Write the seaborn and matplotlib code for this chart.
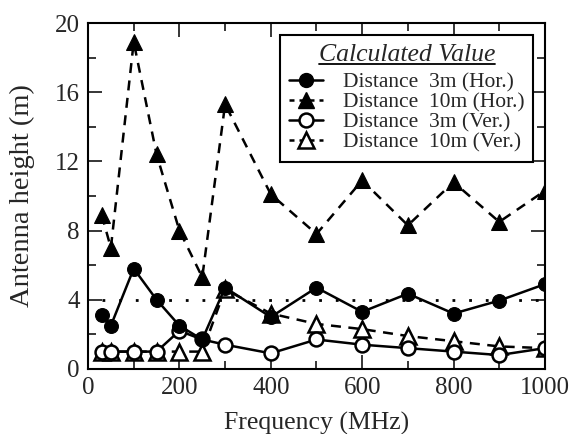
"""Antenna height vs frequency, calculated values."""
import matplotlib
matplotlib.use('Agg')
import matplotlib.pyplot as plt
from matplotlib.lines import Line2D
from matplotlib.ticker import MultipleLocator
import seaborn as sns

freq = [30, 50, 100, 150, 200, 250, 300, 400, 500, 600, 700, 800, 900, 1000]
hor_3m = [3.1, 2.5, 5.8, 4.0, 2.5, 1.7, 4.7, 3.0, 4.7, 3.3, 4.35, 3.2, 3.95, 4.9]
hor_10m = [8.9, 7.0, 18.9, 12.4, 8.0, 5.3, 15.3, 10.1, 7.8, 10.9, 8.3, 10.8, 8.5, 10.3]
ver_3m = [1.0, 1.0, 1.0, 1.0, 2.2, 1.7, 1.4, 0.9, 1.7, 1.4, 1.2, 1.0, 0.8, 1.2]
ver_10m = [1.0, 1.0, 1.0, 1.0, 1.0, 1.0, 4.6, 3.2, 2.6, 2.3, 1.9, 1.6, 1.3, 1.2]
ref_freq = [30, 1000]
ref_height = [4.0, 4.0]

labels = ['Distance  3m (Hor.)', 'Distance  10m (Hor.)',
          'Distance  3m (Ver.)', 'Distance  10m (Ver.)']

sns.set_style('ticks')
plt.rcParams['font.family'] = ['Liberation Serif', 'DejaVu Serif']

fig = plt.figure(figsize=(5.69, 4.34), dpi=100)
ax = fig.add_axes([0.1547, 0.150, 0.803, 0.797])

ms = 10
lw = 1.8
dash = (0, (4, 3))
sns.lineplot(x=ref_freq, y=ref_height, ax=ax, color='black', linestyle=(0, (1, 5)),
             linewidth=2, legend=False)
sns.lineplot(x=freq, y=ver_10m, ax=ax, color='black', linestyle=dash, linewidth=lw,
             marker='^', markersize=ms + 1, markerfacecolor='white', markeredgecolor='black',
             markeredgewidth=1.8, legend=False)
sns.lineplot(x=freq, y=ver_3m, ax=ax, color='black', linestyle='-', linewidth=lw,
             marker='o', markersize=ms, markerfacecolor='white', markeredgecolor='black',
             markeredgewidth=1.8, legend=False)
sns.lineplot(x=freq, y=hor_10m, ax=ax, color='black', linestyle=dash, linewidth=lw,
             marker='^', markersize=ms + 1, markerfacecolor='black', markeredgecolor='black',
             legend=False)
sns.lineplot(x=freq, y=hor_3m, ax=ax, color='black', linestyle='-', linewidth=lw,
             marker='o', markersize=ms, markerfacecolor='black', markeredgecolor='black',
             legend=False)

ax.set_xlim(0, 1000)
ax.set_ylim(0, 20)
ax.xaxis.set_major_locator(MultipleLocator(200))
ax.xaxis.set_minor_locator(MultipleLocator(100))
ax.yaxis.set_major_locator(MultipleLocator(4))
ax.yaxis.set_minor_locator(MultipleLocator(2))
ax.tick_params(which='both', direction='in', top=True, right=True, width=1.3,
               labelsize=18, pad=6)
ax.tick_params(which='major', length=10)
ax.tick_params(which='minor', length=6)
for s in ax.spines.values():
    s.set_linewidth(1.5)
    s.set_color('black')
ax.set_xlabel('Frequency (MHz)', fontsize=18.5)
ax.set_ylabel('Antenna height (m)', fontsize=20.5)
ax.xaxis.set_label_coords(0.5, -0.124)
ax.xaxis.label.set_va('top')
ax.yaxis.set_label_coords(-0.144, 0.5)
ax.yaxis.label.set_va('center')

handles = [
    Line2D([], [], color='black', ls='-', lw=lw, marker='o', ms=ms, mfc='black'),
    Line2D([], [], color='black', ls=(0, (2, 2)), lw=lw, marker='^', ms=ms + 1, mfc='black'),
    Line2D([], [], color='black', ls='-', lw=lw, marker='o', ms=ms, mfc='white', mew=1.8),
    Line2D([], [], color='black', ls=(0, (2, 2)), lw=lw, marker='^', ms=ms + 1, mfc='white', mew=1.8),
]
leg = ax.legend(handles, labels, loc='upper right', bbox_to_anchor=(0.974, 0.965),
                title='Calculated Value', fontsize=15.5, handlelength=1.6,
                handletextpad=0.9, labelspacing=0.0, borderpad=0.4, borderaxespad=0,
                frameon=True, fancybox=False, edgecolor='black', framealpha=1)
leg.get_frame().set_linewidth(1.5)
leg.get_title().set_fontsize(18.5)
leg.get_title().set_fontstyle('italic')
leg._legend_box.sep = 5  # a bit more room under the title

# underline the legend title
fig.canvas.draw()
bb = leg.get_title().get_window_extent().transformed(fig.transFigure.inverted())
fig.add_artist(Line2D([bb.x0, bb.x1], [bb.y0 + 0.004, bb.y0 + 0.004],
                      color='black', lw=1.3, transform=fig.transFigure))

fig.savefig('out.png', dpi=100)
